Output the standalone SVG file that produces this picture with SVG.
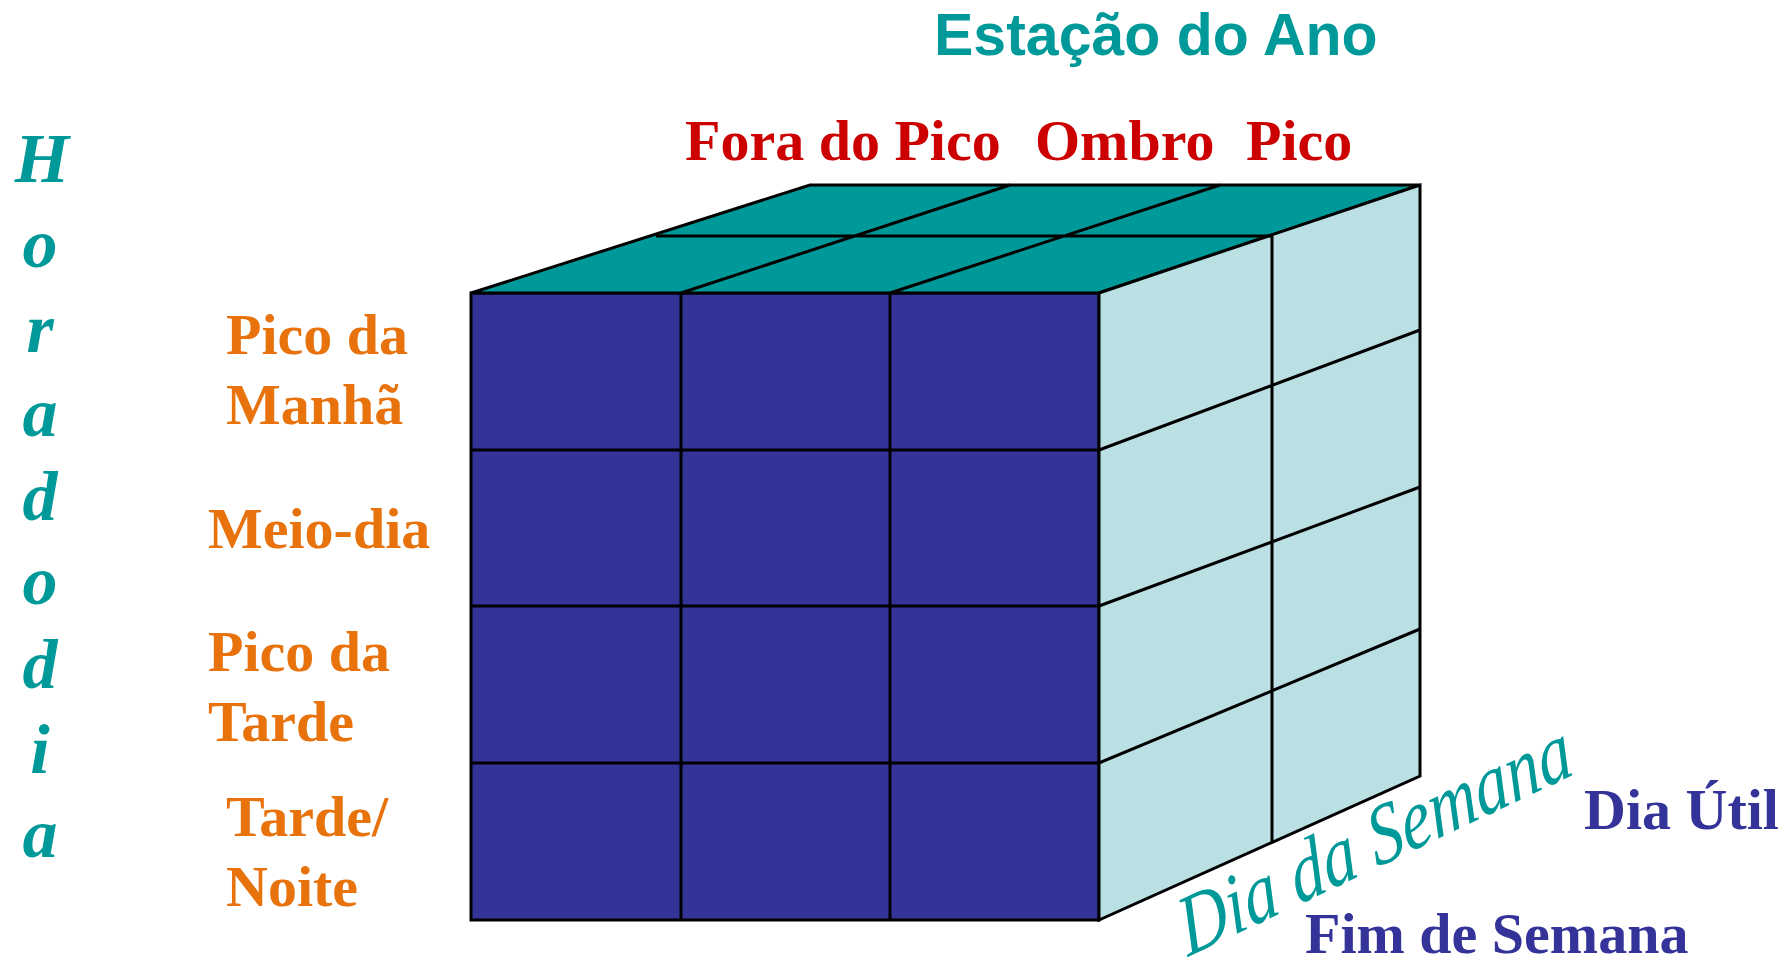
<svg xmlns="http://www.w3.org/2000/svg" width="1791" height="962" viewBox="0 0 1791 962">
<style>
.edge{stroke:#000;stroke-width:3;fill:none;stroke-linejoin:miter}
.sans{font-family:"Liberation Sans",Arial,sans-serif;font-weight:bold}
.serif{font-family:"Liberation Serif","Times New Roman",serif;font-weight:bold}
.teal{fill:#009999}
.red{fill:#CC0000}
.orange{fill:#E8720C}
.navy{fill:#333399}
.vert{font-family:"Liberation Serif","Times New Roman",serif;font-weight:bold;font-style:italic;font-size:70px;fill:#009999;text-anchor:middle}
</style>
<rect width="1791" height="962" fill="#fff"/>
<g id="cube">
<polygon class="edge" points="471,293 1099,293 1099,920 471,920" style="fill:#333399"/>
<polygon class="edge" points="471,293 1099,293 1420,185 810,185" style="fill:#009999"/>
<polygon class="edge" points="1099,293 1420,185 1420,776 1099,920" style="fill:#BBE0E3"/>
</g>
<g id="grid-lines">
<path class="edge" d="M681,293V920M890,293V920M471,450H1099M471,606H1099M471,763H1099"/>
<path class="edge" d="M681,293L1010,185M890,293L1220,185M656,236H1272"/>
<path class="edge" d="M1272,236V843M1099,450L1420,330M1099,606L1420,487M1099,763L1420,629"/>
</g>
<g id="title">
<text class="sans teal" x="934" y="55" font-size="59">Estação do Ano</text>
</g>
<g id="seasons">
<text class="serif red" x="685" y="160" font-size="58">Fora do Pico</text>
<text class="serif red" x="1035" y="160" font-size="58">Ombro</text>
<text class="serif red" x="1246" y="160" font-size="58">Pico</text>
</g>
<g id="hour-axis">
<text class="vert" x="42" y="182">H</text>
<text class="vert" x="40" y="267">o</text>
<text class="vert" x="40" y="352">r</text>
<text class="vert" x="40" y="436">a</text>
<text class="vert" x="40" y="520">d</text>
<text class="vert" x="40" y="604">o</text>
<text class="vert" x="40" y="688">d</text>
<text class="vert" x="40" y="773">i</text>
<text class="vert" x="40" y="857">a</text>
</g>
<g id="hour-labels">
<text class="serif orange" x="226" y="354" font-size="58">Pico da</text>
<text class="serif orange" x="226" y="424" font-size="58">Manhã</text>
<text class="serif orange" x="208" y="548" font-size="58">Meio-dia</text>
<text class="serif orange" x="208" y="671" font-size="58">Pico da</text>
<text class="serif orange" x="208" y="741" font-size="58">Tarde</text>
<text class="serif orange" x="226" y="836" font-size="58">Tarde/</text>
<text class="serif orange" x="226" y="906" font-size="58">Noite</text>
</g>
<g id="day-axis">
<text transform="translate(1188,957) scale(1,1.3) rotate(-20)" font-family="'Liberation Serif','Times New Roman',serif" font-style="italic" font-size="67" fill="#009999">Dia da Semana</text>
</g>
<g id="day-labels">
<text class="serif navy" x="1584" y="829" font-size="58">Dia Útil</text>
<text class="serif navy" x="1305" y="953" font-size="58">Fim de Semana</text>
</g>
</svg>
